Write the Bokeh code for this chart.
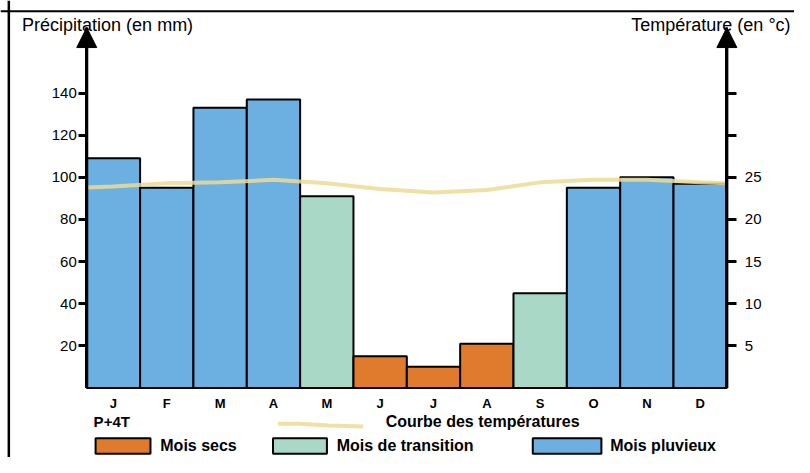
from bokeh.plotting import figure
from bokeh.models import (Range1d, LinearAxis, FixedTicker, Arrow, NormalHead,
                          Label, ColumnDataSource, Span)
from bokeh.embed import file_html
from bokeh.resources import INLINE
from bokeh.core.properties import value

# ---------------- data ----------------
months = ["J", "F", "M", "A", "M", "J", "J", "A", "S", "O", "N", "D"]
precip = [109, 95, 133, 137, 91, 15, 10, 21, 45, 95, 100, 97]
temps = [23.9, 24.3, 24.4, 24.7, 24.3, 23.6, 23.2, 23.5, 24.4, 24.7, 24.7, 24.4]
temp_start, temp_end = 23.8, 24.3      # curve value read at the two axes
season = ["P", "P", "P", "P", "T", "S", "S", "S", "T", "P", "P", "P"]
precip_ticks = [20, 40, 60, 80, 100, 120, 140]
temp_ticks = [5, 10, 15, 20, 25, 30, 35]
temp_tick_labels = ["5", "10", "15", "20", "25", "", ""]

COLORS = {"P": "#6cb0e2", "T": "#a9d8c6", "S": "#e07a2c"}
CURVE = "#ecdb94"
FONT = "Liberation Sans"

# ---------------- geometry ----------------
W, H = 794, 457
SX, SY = W / 810.0, H / 473.0          # reference px -> canvas px


def cx(rx):
    return rx * SX


def cy(ry):
    return ry * SY


X0, X12 = cx(88), cx(741)
BAR = (X12 - X0) / 12.0
Y0 = cy(401)
PXMM = 2.18 * SY


def dx(rx):
    return (cx(rx) - X0) / BAR


def dy(ry):
    return (Y0 - cy(ry)) / PXMM


y_top = dy(28)
yr_start, yr_end = (Y0 - H) / PXMM, Y0 / PXMM

p = figure(width=W, height=H,
           x_range=Range1d(-X0 / BAR, (W - X0) / BAR),
           y_range=Range1d(yr_start, yr_end),
           output_backend="svg", toolbar_location=None,
           x_axis_type=None, y_axis_type=None,
           min_border=0, min_border_left=0, min_border_right=0,
           min_border_top=0, min_border_bottom=0)
p.outline_line_color = None
p.background_fill_color = "white"
p.border_fill_color = "white"
p.extra_y_ranges = {"temp": Range1d(yr_start / 4.0, yr_end / 4.0)}

# outer frame of the figure (top and left edges)
p.add_layout(Span(location=dx(8.5), dimension="height", line_color="black", line_width=2.5))
p.add_layout(Span(location=dy(11), dimension="width", line_color="black", line_width=2))

# axes
left = LinearAxis(bounds=(0, y_top), ticker=FixedTicker(ticks=precip_ticks), fixed_location=0)
right = LinearAxis(y_range_name="temp", bounds=(0, y_top / 4.0), fixed_location=12,
                   ticker=FixedTicker(ticks=temp_ticks),
                   major_label_overrides={t: l for t, l in zip(temp_ticks, temp_tick_labels)})
for ax in (left, right):
    ax.axis_line_width = 3
    ax.axis_line_color = "black"
    ax.major_tick_line_width = 3
    ax.major_tick_line_color = "black"
    ax.major_tick_in = 0
    ax.minor_tick_line_color = None
    ax.major_label_text_font = FONT
    ax.major_label_text_font_size = "15px"
    ax.major_label_text_color = "black"
left.major_tick_out = 8
left.major_label_standoff = 2
right.major_tick_out = 10
right.major_label_standoff = 8
p.add_layout(left, "left")
p.add_layout(right, "right")

# bars
src = ColumnDataSource(dict(
    x=[i + 0.5 for i in range(len(months))],
    top=precip,
    color=[COLORS[s] for s in season],
    month=months,
))
p.vbar(x="x", top="top", bottom=0, width=1, source=src, fill_color="color",
       line_color="black", line_width=2)

# temperature curve (from axis to axis)
curve_x = [0] + [i + 0.5 for i in range(len(months))] + [len(months)]
curve_t = [temp_start] + temps + [temp_end]
p.line(x=curve_x, y=curve_t, y_range_name="temp", line_color=CURVE,
       line_width=4, line_alpha=0.85)

# arrows on the axes
for xa in (0, 12):
    p.add_layout(Arrow(end=NormalHead(size=20, fill_color="black", line_color="black"),
                       x_start=xa, y_start=0, x_end=xa, y_end=y_top,
                       line_width=3, line_color="black"))

# month labels
p.text(x="x", y=dy(417), text="month", source=src, text_align="center",
       text_baseline="middle", text_font=value(FONT), text_font_size="13px",
       text_font_style="bold", text_color="black")

# titles
p.add_layout(Label(x=dx(22), y=dy(25), text="Précipitation (en mm)", text_font=FONT,
                   text_font_size="18px", text_baseline="middle", text_color="black"))
p.add_layout(Label(x=dx(806), y=dy(25), text="Température (en °c)", text_font=FONT,
                   text_font_size="18px", text_baseline="middle", text_align="right",
                   text_color="black"))

# legend
p.add_layout(Label(x=dx(95), y=dy(436), text="P+4T", text_font=FONT, text_font_size="15px",
                   text_font_style="bold", text_baseline="middle", text_color="black"))
p.line([dx(283), dx(305), dx(335), dx(370)], [dy(438), dy(438), dy(440), dy(441)],
       line_color=CURVE, line_width=4, line_alpha=0.85)
p.add_layout(Label(x=dx(393), y=dy(436), text="Courbe des températures", text_font=FONT,
                   text_font_size="16px", text_font_style="bold", text_baseline="middle",
                   text_color="black"))

sw_top, sw_bot, txt_y = dy(453), dy(469), dy(461)
p.quad(left=[dx(97), dx(278), dx(543)], right=[dx(153), dx(333), dx(613)],
       top=[sw_top] * 3, bottom=[sw_bot] * 3,
       fill_color=[COLORS["S"], COLORS["T"], COLORS["P"]], line_color="black", line_width=2)
for xt, t in ((163, "Mois secs"), (343, "Mois de transition"), (622, "Mois pluvieux")):
    p.add_layout(Label(x=dx(xt), y=txt_y, text=t, text_font=FONT, text_font_size="16px",
                       text_font_style="bold", text_baseline="middle", text_color="black"))

open("out.html", "w").write(file_html(p, INLINE))
